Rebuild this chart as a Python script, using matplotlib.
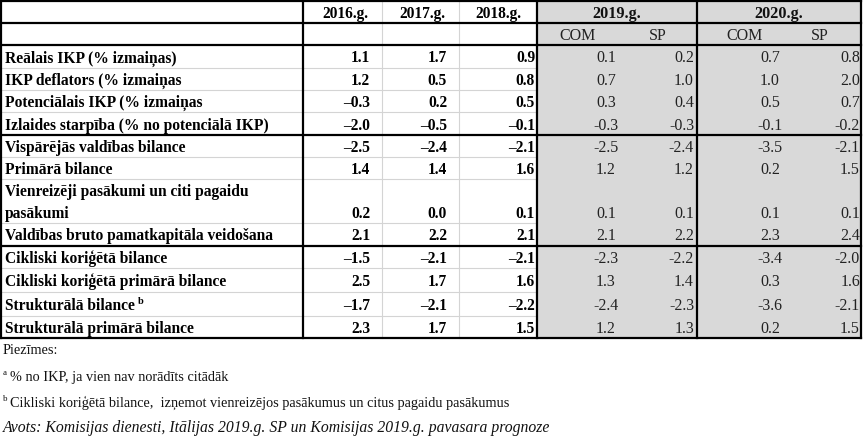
import matplotlib
matplotlib.use("Agg")
import matplotlib.pyplot as plt
from matplotlib.patches import Rectangle

# ---------------- data ----------------
row_labels = [
    "Reālais IKP (% izmaiņas)",
    "IKP deflators (% izmaiņas",
    "Potenciālais IKP (% izmaiņas",
    "Izlaides starpība (% no potenciālā IKP)",
    "Vispārējās valdības bilance",
    "Primārā bilance",
    "Vienreizēji pasākumi un citi pagaidu\npasākumi",
    "Valdības bruto pamatkapitāla veidošana",
    "Cikliski koriģētā bilance",
    "Cikliski koriģētā primārā bilance",
    "Strukturālā bilance",
    "Strukturālā primārā bilance",
]
label_sup = {10: "b"}
years_hist = ["2016.g.", "2017.g.", "2018.g."]
years_fc = ["2019.g.", "2020.g."]
sub_cols = ["COM", "SP"]

v2016 = [1.1, 1.2, -0.3, -2.0, -2.5, 1.4, 0.2, 2.1, -1.5, 2.5, -1.7, 2.3]
v2017 = [1.7, 0.5, 0.2, -0.5, -2.4, 1.4, 0.0, 2.2, -2.1, 1.7, -2.1, 1.7]
v2018 = [0.9, 0.8, 0.5, -0.1, -2.1, 1.6, 0.1, 2.1, -2.1, 1.6, -2.2, 1.5]
com2019 = [0.1, 0.7, 0.3, -0.3, -2.5, 1.2, 0.1, 2.1, -2.3, 1.3, -2.4, 1.2]
sp2019 = [0.2, 1.0, 0.4, -0.3, -2.4, 1.2, 0.1, 2.2, -2.2, 1.4, -2.3, 1.3]
com2020 = [0.7, 1.0, 0.5, -0.1, -3.5, 0.2, 0.1, 2.3, -3.4, 0.3, -3.6, 0.2]
sp2020 = [0.8, 2.0, 0.7, -0.2, -2.1, 1.5, 0.1, 2.4, -2.0, 1.6, -2.1, 1.5]

notes_title = "Piezīmes:"
note_a = "% no IKP, ja vien nav norādīts citādāk"
note_b = "Cikliski koriģētā bilance,  izņemot vienreizējos pasākumus un citus pagaidu pasākumus"
source = "Avots: Komisijas dienesti, Itālijas 2019.g. SP un Komisijas 2019.g. pavasara prognoze"

# ---------------- layout (pixels) ----------------
W, H = 863, 437
X_LEFT, X_LAB, X_16, X_17, X_18, X_19, X_20 = 1, 303, 382, 459, 537, 697, 861
Y_TOP, Y_H1, Y_H2 = 1, 23, 45
row_bounds = [45, 68, 90, 112, 135, 157, 179, 223, 246, 268, 292, 316, 338]
thick_rows = {4, 8}   # rows whose top border is thick

# horizontal anchors of the forecast columns
X_COM19_C, X_SP19_R, X_COM20_C, X_SP20_R = 606, 694, 770, 860
X_COM19_H, X_SP19_H, X_COM20_H, X_SP20_H = 578, 658, 745, 820

SERIF = "Liberation Serif"
FS = 11.2
FS_NUM = 11.5
FS_NOTE = 10.3
FS_SRC = 11.3
DY = 2.0

fig = plt.figure(figsize=(W / 100, H / 100), dpi=100)
ax = fig.add_axes([0, 0, 1, 1])
ax.set_xlim(0, W)
ax.set_ylim(H, 0)
ax.axis("off")

# grey forecast area
ax.add_patch(Rectangle((X_18, Y_TOP), X_20 - X_18, row_bounds[-1] - Y_TOP,
                       facecolor="#d9d9d9", edgecolor="none", zorder=0))

light = dict(color="#d4d4d4", lw=0.8, zorder=1)
thick = dict(color="black", lw=1.6, zorder=3, solid_capstyle="projecting")

for i, yb in enumerate(row_bounds[1:-1], start=1):
    if i not in thick_rows:
        ax.plot([X_LEFT, X_18], [yb, yb], **light)
for xv in (X_16, X_17):
    ax.plot([xv, xv], [Y_TOP, row_bounds[-1]], **light)

for yb in [Y_TOP, Y_H1, Y_H2, row_bounds[4], row_bounds[8], row_bounds[-1]]:
    ax.plot([X_LEFT, X_20], [yb, yb], **thick)
for xv in [X_LEFT, X_LAB, X_18, X_19, X_20]:
    ax.plot([xv, xv], [Y_TOP, row_bounds[-1]], **thick)

# headers
hy1 = (Y_TOP + Y_H1) / 2 + 1.5
hy2 = (Y_H1 + Y_H2) / 2 + 1.5
for yl, xc in zip(years_hist, [(X_LAB + X_16) / 2 + 3, (X_16 + X_17) / 2 + 2, (X_17 + X_18) / 2]):
    ax.text(xc, hy1, yl, ha="center", va="center", fontsize=FS, fontweight="bold", family=SERIF)
for yl, (x0, x1) in zip(years_fc, [(X_18, X_19), (X_19, X_20)]):
    ax.text((x0 + x1) / 2, hy1, yl, ha="center", va="center", fontsize=FS + 0.5, fontweight="bold",
            family=SERIF, color="#111111")
for xh, lab in zip([X_COM19_H, X_SP19_H, X_COM20_H, X_SP20_H], sub_cols * 2):
    ax.text(xh, hy2, lab, ha="center", va="center", fontsize=FS_NUM,
            family=SERIF, color="#222222")


def fmt_bold(v):
    return f"{v:.1f}".replace("-", "\u2013")


fig.canvas.draw()
renderer = fig.canvas.get_renderer()

grey_kw = dict(va="center", fontsize=FS_NUM, family=SERIF, color="#222222")
bold_kw = dict(va="center", fontsize=FS, fontweight="bold", family=SERIF, color="black")

for i, lab in enumerate(row_labels):
    top, bot = row_bounds[i], row_bounds[i + 1]
    yc = (top + bot) / 2 + DY
    if "\n" in lab:
        l1, l2 = lab.split("\n")
        ax.text(5, top + 11 + DY, l1, ha="left", **bold_kw)
        ax.text(5, bot - 11 + DY, l2, ha="left", **bold_kw)
        yv = bot - 11 + DY
    else:
        t = ax.text(5, yc, lab, ha="left", **bold_kw)
        yv = yc
        if i in label_sup:
            bb = t.get_window_extent(renderer)
            xe = ax.transData.inverted().transform((bb.x1, bb.y1))[0]
            ax.text(xe + 3, yc - 5, label_sup[i], ha="left", va="center", fontsize=7.5,
                    fontweight="bold", family=SERIF)
    ax.text(X_16 - 12, yv, fmt_bold(v2016[i]), ha="right", **bold_kw)
    ax.text(X_17 - 12, yv, fmt_bold(v2017[i]), ha="right", **bold_kw)
    ax.text(X_18 - 2, yv, fmt_bold(v2018[i]), ha="right", **bold_kw)
    ax.text(X_COM19_C, yv, f"{com2019[i]:.1f}", ha="center", **grey_kw)
    ax.text(X_SP19_R, yv, f"{sp2019[i]:.1f}", ha="right", **grey_kw)
    ax.text(X_COM20_C, yv, f"{com2020[i]:.1f}", ha="center", **grey_kw)
    ax.text(X_SP20_R, yv, f"{sp2020[i]:.1f}", ha="right", **grey_kw)

# notes
note_kw = dict(ha="left", va="center", family=SERIF, color="#111111")
ax.text(3, 351, notes_title, fontsize=FS_NOTE, **note_kw)
ax.text(3, 373, "a", fontsize=6.5, **note_kw)
ax.text(10, 377, note_a, fontsize=FS_NOTE, **note_kw)
ax.text(3, 399, "b", fontsize=6.5, **note_kw)
ax.text(10, 403, note_b, fontsize=FS_NOTE, **note_kw)
ax.text(3, 428, source, fontsize=FS_SRC, style="italic", **note_kw)

fig.savefig("out.png", dpi=100)
